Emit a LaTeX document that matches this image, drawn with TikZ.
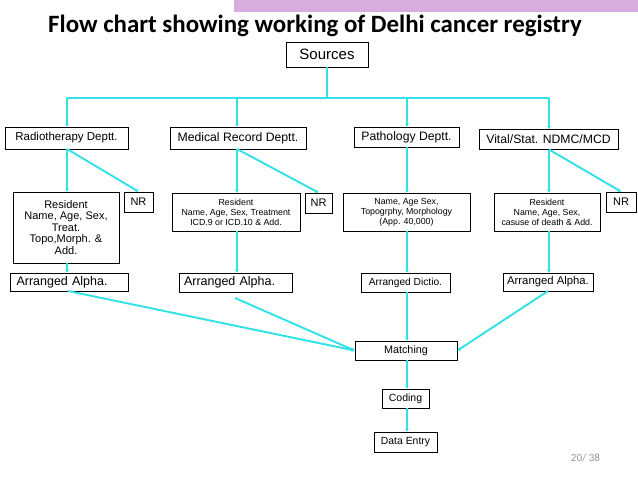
\documentclass[tikz,border=0pt]{standalone}
\usepackage{fontspec}
\setmainfont{Liberation Sans}
\newfontfamily\titlefont{Carlito}
\usetikzlibrary{arrows.meta}
\definecolor{conn}{RGB}{50,225,230}
\definecolor{band}{RGB}{216,172,222}
\definecolor{pagenum}{RGB}{150,150,150}
\tikzset{
  box/.style={draw=black, line width=0.9pt, inner sep=0pt, align=center, fill=white},
  fs/.style 2 args={font=\fontsize{#1}{#2}\selectfont},
  link/.style={draw=conn, line width=1.9pt, -{Stealth[length=3pt,width=4pt]}},
  plainlink/.style={draw=conn, line width=1.9pt}
}
\begin{document}
\begin{tikzpicture}[x=1pt,y=-1pt]
\useasboundingbox[fill=white] (0,0) rectangle (638,479);
% top band
\fill[band] (234,0) rectangle (638,11.5);
% title
\node[anchor=base west, inner sep=0pt, font=\titlefont\bfseries\fontsize{24.9}{29}\selectfont] (title) at (48,32) {Flow chart showing working of Delhi cancer registry};

% nodes
\node[box, fs={15}{17}, minimum width=82, minimum height=25] (src) at (327,54.5) {Sources};

\node[box, fs={11.5}{13}, minimum width=123, minimum height=22] (rad) at (66.5,138) {Radiotherapy Deptt.};
\node[box, fs={12.2}{14}, minimum width=136, minimum height=22] (med) at (238,138) {Medical Record Deptt.};
\node[box, fs={12.2}{14}, minimum width=105, minimum height=20] (pat) at (406.5,137) {Pathology Deptt.};
\node[box, fs={12.2}{14}, minimum width=139, minimum height=20] (vit) at (548.5,139.5) {Vital/Stat. NDMC/MCD};

\node[box, fs={11}{11.5}, minimum width=106, minimum height=71] (res1) at (66,227.5) {Resident\\Name, Age, Sex,\\Treat.\\Topo,Morph. \&\\Add.};
\node[box, fs={11}{13}, minimum width=29, minimum height=20] (nr1) at (138.5,202) {NR};
\node[box, fs={8.8}{10}, minimum width=128, minimum height=38] (res2) at (236,212) {Resident\\Name, Age, Sex, Treatment\\ICD.9 or ICD.10 \& Add.};
\node[box, fs={11}{13}, minimum width=27, minimum height=20] (nr2) at (318.5,203) {NR};
\node[box, fs={8.8}{10}, minimum width=127, minimum height=38] (res3) at (406.5,212) {Name, Age Sex,\\Topogrphy, Morphology\\(App. 40,000)};
\node[box, fs={8.8}{10}, minimum width=106, minimum height=38] (res4) at (547,212) {Resident\\Name, Age, Sex,\\casuse of death \& Add.};
\node[box, fs={11}{13}, minimum width=30, minimum height=20] (nr4) at (621,202) {NR};

\node[box, fs={12.5}{14}, align=left, text width=105, inner xsep=6.5, minimum height=18] (arr1) at (69,282) {Arranged Alpha.};
\node[box, fs={12.5}{14}, align=left, text width=103, inner xsep=5, minimum height=19] (arr2) at (235.5,282.5) {Arranged Alpha.};
\node[box, fs={10.2}{12}, minimum width=89, minimum height=19] (arr3) at (405.5,282.5) {Arranged Dictio.};
\node[box, fs={11.3}{13}, minimum width=90, minimum height=18] (arr4) at (548,282) {Arranged Alpha.};

\node[box, fs={10.8}{12}, minimum width=102, minimum height=19] (match) at (406,350.5) {Matching};
\node[box, fs={10.5}{12}, minimum width=47, minimum height=19] (cod) at (405.5,398.5) {Coding};
\node[box, fs={10.4}{12}, minimum width=63, minimum height=20] (de) at (405.5,442) {Data Entry};

\node[anchor=base, inner sep=0pt, text=pagenum, font=\titlefont\fontsize{11}{13}\selectfont] (pg) at (585.5,461) {20/ 38};

% connectors
\coordinate (busm) at (327,98);
\coordinate (bus1) at (67,98);
\coordinate (bus2) at (237,98);
\coordinate (bus3) at (407,98);
\coordinate (bus4) at (549,98);
\draw[plainlink] (src.south) -- (busm);
\draw[plainlink, line cap=round] (bus1) -- (bus4);
\draw[link] (bus1) -- (bus1 |- rad.north);
\draw[link] (bus2) -- (bus2 |- med.north);
\draw[link] (bus3) -- (bus3 |- pat.north);
\draw[link] (bus4) -- (bus4 |- vit.north);

\coordinate (r1) at (67,149);
\coordinate (r2) at (237,149);
\coordinate (r3) at (407,147);
\coordinate (r4) at (549,149.5);
\draw[link] (r1) -- (r1 |- res1.north);
\draw[link] (r1) -- (nr1.north);
\draw[link] (r2) -- (r2 |- res2.north);
\draw[link] (r2) -- (nr2.north);
\draw[link] (r3) -- (r3 |- res3.north);
\draw[link] (r4) -- (r4 |- res4.north);
\draw[link] (r4) -- (nr4.north);

\draw[link] (r1 |- res1.south) -- (r1 |- arr1.north);
\draw[link] (r2 |- res2.south) -- (r2 |- arr2.north);
\draw[link] (r3 |- res3.south) -- (r3 |- arr3.north);
\draw[link] (r4 |- res4.south) -- (r4 |- arr4.north);

\coordinate (a2s) at (235,298);
\draw[link] (68,291) -- (match.west);
\draw[link] (a2s) -- (match.west);
\draw[link] (r3 |- arr3.south) -- (r3 |- match.north);
\draw[link] (548,291) -- (match.east);
\draw[link] (r3 |- match.south) -- (r3 |- cod.north);
\draw[link] (r3 |- cod.south) -- (r3 |- de.north);
\end{tikzpicture}
\end{document}
